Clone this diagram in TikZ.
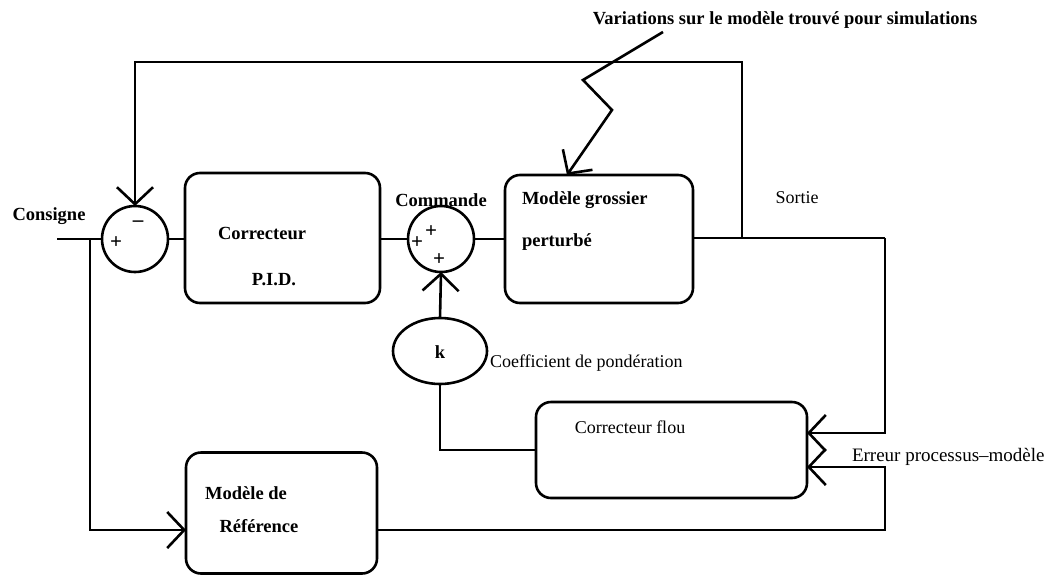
\documentclass[tikz,border=0pt]{standalone}
\usepackage{fontspec}
\setmainfont{Liberation Serif}
\usetikzlibrary{arrows.meta,shapes.geometric}
\begin{document}
\begin{tikzpicture}[x=1pt,y=-1pt,
  line width=2.6pt, line join=miter,
  every node/.style={inner sep=0pt, outer sep=0pt},
  blk/.style={draw, rounded corners=15pt, minimum width=#1},
  sumnode/.style={draw, circle, minimum size=66pt},
  lbl/.style={font=\fontsize{18.5}{20}\selectfont\bfseries},
  lblr/.style={font=\fontsize{18}{20}\selectfont},
  sgn/.style={font=\fontsize{21}{21}\selectfont\bfseries},
  barb/.style={-{Straight Barb[length=17pt,width=36pt,line width=2.6pt]}}]
\useasboundingbox (0,0) rectangle (1064,576);

% blocks
\node[blk=195pt, minimum height=130pt] (pid) at (282.5,238) {};
\node[blk=188pt, minimum height=128pt] (model) at (599,239) {};
\node[blk=271pt, minimum height=96pt] (flou) at (671.5,450) {};
\node[blk=191pt, minimum height=121pt] (ref) at (281.5,513) {};
\node[sumnode] (sum1) at (135,239) {};
\node[sumnode] (sum2) at (441,239) {};
\node[draw, ellipse, minimum width=94pt, minimum height=66pt] (k) at (440,351) {};

% texts
\node[lbl] (tcons) at (49,216) {Consigne};
\node[lbl] (tcor) at (262,233) {Correcteur};
\node[lbl] (tpid) at (274,280) {P.I.D.};
\node[lbl] (tcom) at (441,200) {Commande};
\node[lbl, anchor=west] (tmod1) at (522,200) {Modèle grossier};
\node[lbl, anchor=west] (tmod2) at (522,242) {perturbé};
\node[lblr] (tsort) at (797,198) {Sortie};
\node[lbl] (tk) at (440,352) {k};
\node[lblr, anchor=west] (tcoef) at (490,363) {Coefficient de pondération};
\node[lblr] (tflou) at (630,427) {Correcteur flou};
\node[lbl] (tref1) at (246,493) {Modèle de};
\node[lbl] (tref2) at (259,526) {Référence};
\node[lbl] (tvar) at (785,20) {Variations sur le modèle trouvé pour simulations};
\node[lblr, anchor=west, font=\fontsize{19}{20}\selectfont] (terr) at (852,457) {Erreur processus–modèle};

% signs on the summing junctions
\node[sgn] (m1) at (138,224) {–};
\node[sgn] (p1) at (116,243) {+};
\node[sgn] (p2) at (417,243) {+};
\node[sgn] (p3) at (431,232) {+};
\node[sgn] (p4) at (439,260) {+};

% free ends and bends
\coordinate (cin) at (57,239);
\coordinate (cbr) at (90,239);
\coordinate (cout) at (885,238);
\coordinate (cfb) at (742,238);
\coordinate (ctop) at (742,62);
\coordinate (z0) at (663,32);
\coordinate (z1) at (583,80);
\coordinate (z2) at (612,110);
\coordinate (zt) at (567,175);

% main chain
\draw (cin) -- (sum1.west);
\draw (sum1.east) -- (sum1.east -| pid.west);
\draw (pid.east |- sum2.west) -- (sum2.west);
\draw (sum2.east) -- (sum2.east -| model.west);
\draw (model.east |- cout) -- (cout);

% feedback to first junction
\draw[barb] (cfb) -- (ctop) -| (sum1.north);

% reference model branch
\draw[barb] (cbr) |- ([yshift=-17pt]ref.west);

% process output into fuzzy corrector
\draw[barb] (cout) |- ([yshift=17pt]flou.east);
\draw[barb] ([yshift=-17pt]ref.east) -| ([xshift=78pt,yshift=-17pt]flou.east) -- ([yshift=-17pt]flou.east);

% fuzzy corrector through weighting k
\draw (flou.west) -| (k.south);
\draw[barb] (k.north) -- (sum2.south);

% model variations
\draw[barb] (z0) -- (z1) -- (z2) -- (zt);
\end{tikzpicture}
\end{document}
